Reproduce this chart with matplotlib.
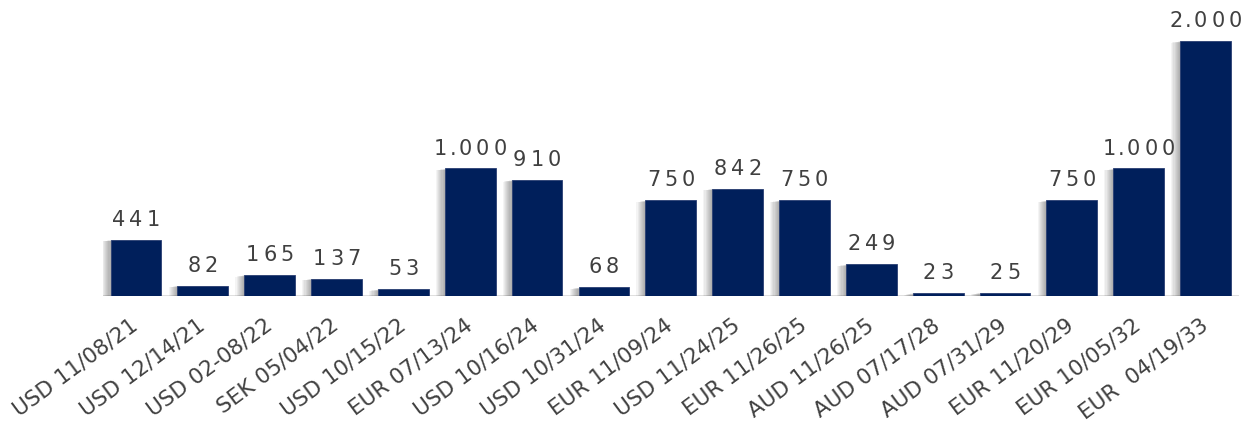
import matplotlib.pyplot as plt
import matplotlib.patheffects as pe
import matplotlib.transforms as mtransforms

labels = ["USD 11/08/21", "USD 12/14/21", "USD 02-08/22", "SEK 05/04/22",
          "USD 10/15/22", "EUR 07/13/24", "USD 10/16/24", "USD 10/31/24",
          "EUR 11/09/24", "USD 11/24/25", "EUR 11/26/25", "AUD 11/26/25",
          "AUD 07/17/28", "AUD 07/31/29", "EUR 11/20/29", "EUR 10/05/32",
          "EUR  04/19/33"]
values = [441, 82, 165, 137, 53, 1000, 910, 68, 750, 842, 750, 249, 23, 25, 750, 1000, 2000]

fs = 15        # value label size (pt)
gap = 2.9      # extra letter spacing (pt)


def fmt(v):
    return f"{v:,}".replace(",", ".")


def spaced_label(ax, x, y, s):
    # draw characters one by one to get the wide letter spacing
    w = [0.318 * fs if c == "." else 0.636 * fs for c in s]
    g = [gap * 0.6 if (c == "." or n == ".") else gap for c, n in zip(s, s[1:])] + [0]
    total = sum(w) + sum(g)
    pos = -total / 2
    for c, wi, gi in zip(s, w, g):
        ax.annotate(c, (x, y), xytext=(pos + wi / 2, 10), textcoords="offset points",
                    ha="center", va="baseline", fontsize=fs, color="#404040", zorder=4)
        pos += wi + gi


fig = plt.figure(figsize=(12.43, 4.26), dpi=100)
ax = fig.add_axes([102.6 / 1243, 130 / 426, 1136.3 / 1243, 280.5 / 426])

x = list(range(len(values)))
shadow = [pe.SimplePatchShadow(offset=(-k * 0.8, -k * 0.15), shadow_rgbFace="#000000", alpha=0.045)
          for k in range(1, 9)]
bars = ax.bar(x, values, width=0.76, color="#001F5B", edgecolor="#2a3f73", linewidth=0.6,
              path_effects=shadow + [pe.Normal()], zorder=3)

for xi, v in zip(x, values):
    spaced_label(ax, xi, v, fmt(v))

ax.axhline(0, color="#d9d9d9", lw=1.2, zorder=2)
ax.set_xlim(-0.5, len(values) - 0.5)
ax.set_ylim(0, 2200)
ax.set_xticks(x)
ax.set_xticklabels(labels, rotation=36.5, ha="right", va="baseline", rotation_mode="anchor",
                   fontsize=15.5, color="#404040")
ax.tick_params(axis="x", length=0, pad=23)
shift = mtransforms.ScaledTranslation(3.5 / 100, 0, fig.dpi_scale_trans)
for t in ax.get_xticklabels():
    t.set_transform(t.get_transform() + shift)
ax.set_yticks([])
for s in ax.spines.values():
    s.set_visible(False)

fig.savefig("out.png", dpi=100)
